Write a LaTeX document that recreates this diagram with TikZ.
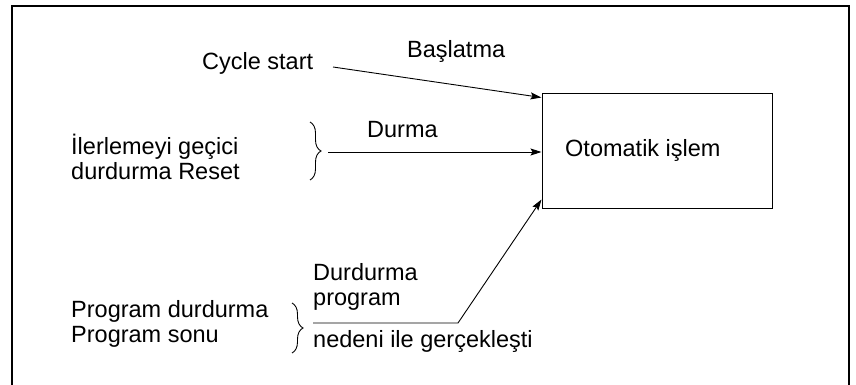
\documentclass[tikz,border=0pt]{standalone}
\usepackage{fontspec}
\setmainfont{Liberation Sans}
\usetikzlibrary{arrows.meta,calc,decorations.pathreplacing}

\begin{document}
\begin{tikzpicture}[x=1pt,y=-1pt,
  lbl/.style={anchor=base west,inner sep=0pt,font=\fontsize{23.5}{25}\selectfont},
  conn/.style={line width=0.9pt,-{Stealth[length=11pt,width=7pt,inset=2pt]}},
  brc/.style={decorate,decoration={brace,amplitude=11pt},line width=0.9pt}
]
  \useasboundingbox (0,0) rectangle (856,385);
  % outer frame, open at the bottom
  \draw[line width=1.5pt] (12,385) -- (12,6) -- (849,6) -- (849,385);
  % automatic operation box
  \node[draw,line width=1pt,minimum width=230pt,minimum height=114pt,inner sep=0pt] (oto) at (657,151) {};
  \node[lbl] (otolbl) at (565,157) {Otomatik işlem};
  % cycle start
  \node[lbl] (cycle) at (202,70) {Cycle start};
  \node[lbl] (basla) at (407,58) {Başlatma};
  \coordinate (cyclend) at (333,67);
  \draw[conn] (cyclend) -- ($(oto.north west)+(0,4)$);
  % feed hold / reset
  \node[lbl] (feed1) at (71,154) {İlerlemeyi geçici};
  \node[lbl] (feed2) at (71,179) {durdurma Reset};
  \draw[brc] (310,122) -- (310,180);
  \node[lbl] (durma) at (367,138) {Durma};
  \coordinate (feedend) at (328,152);
  \draw[conn] (feedend) -- (feedend -| oto.west);
  % program stop / end
  \node[lbl] (prog1) at (71,317) {Program durdurma};
  \node[lbl] (prog2) at (71,342) {Program sonu};
  \draw[brc] (292,303) -- (292,353);
  \node[lbl] (dur1) at (313,280) {Durdurma};
  \node[lbl] (dur2) at (313,305) {program};
  \node[lbl] (dur3) at (313,347) {nedeni ile gerçekleşti};
  \coordinate (progstart) at (313,323);
  \coordinate (progbend) at (458,323);
  \draw[conn] (progstart) -- (progbend) -- ($(oto.south west)+(0,-9)$);
\end{tikzpicture}
\end{document}
